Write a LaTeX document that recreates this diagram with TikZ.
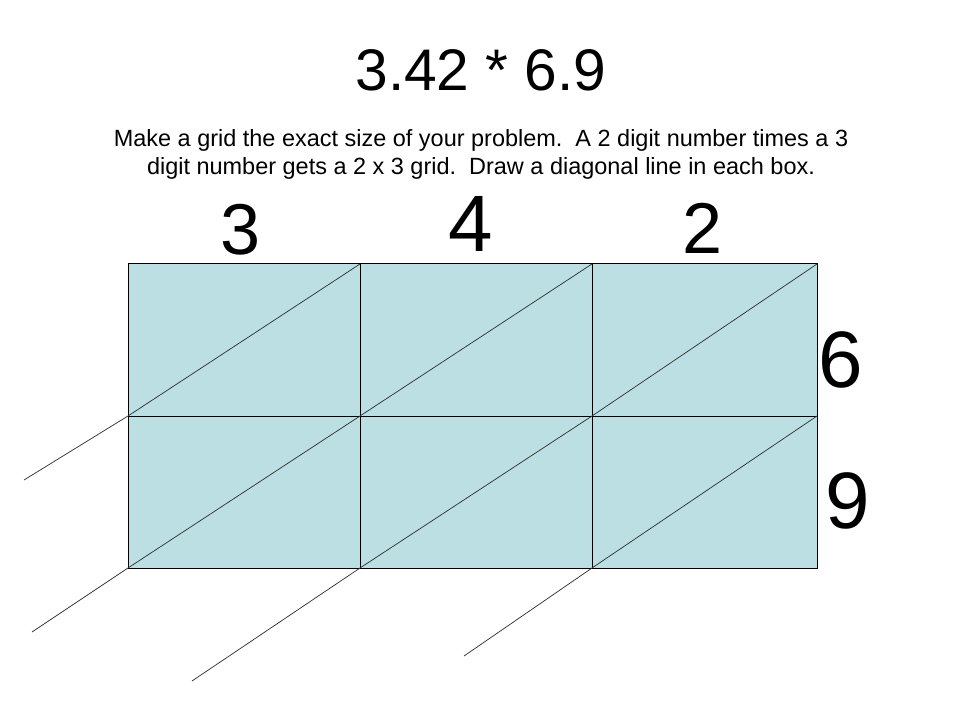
\documentclass[tikz,border=0pt]{standalone}
\usepackage{fontspec}
\setmainfont{Liberation Sans}
\usepackage{tikz}

\definecolor{cellblue}{RGB}{187,223,227}

\tikzset{
  cell/.style={fill=cellblue,draw=black,line width=0.75pt},
  diag/.style={draw=black!80,line width=0.55pt},
  digit/.style={anchor=base,inner sep=0pt,font=\fontsize{54}{54}\selectfont},
  bigdigit/.style={anchor=base,inner sep=0pt,font=\fontsize{60}{60}\selectfont}
}

\begin{document}
\begin{tikzpicture}[x=0.75pt,y=-0.75pt]
  \useasboundingbox (0,0) rectangle (960,720);

  % title and instructions
  \node[anchor=base,inner sep=0pt,font=\fontsize{44}{44}\selectfont] (title) at (481,91) {3.42 * 6.9};
  \node[anchor=base,inner sep=0pt,align=center,font=\fontsize{17.6}{21.5}\selectfont] (note) at (481,174.7)
    {Make a grid the exact size of your problem.\ \ A 2 digit number times a 3\\
     digit number gets a 2 x 3 grid.\ \ Draw a diagonal line in each box.};

  % grid lines
  \def\xa{128} \def\xb{360} \def\xc{592} \def\xd{817}
  \def\ya{264} \def\yb{416} \def\yc{568}

  \foreach \xl/\xr in {\xa/\xb,\xb/\xc,\xc/\xd}
  {
    \foreach \yt/\yl in {\ya/\yb,\yb/\yc}
    {
      \draw[cell] (\xl,\yt) rectangle (\xr,\yl);
    }
  }

  % diagonal in each box
  \foreach \xl/\xr in {\xa/\xb,\xb/\xc,\xc/\xd}
  {
    \foreach \yt/\yl in {\ya/\yb,\yb/\yc}
    {
      \draw[diag] (\xl,\yl) -- (\xr,\yt);
    }
  }

  % diagonals carried on past the grid
  \coordinate (tailA) at (24,480);
  \coordinate (tailB) at (32,632);
  \coordinate (tailC) at (192,681);
  \coordinate (tailD) at (464,656);
  \draw[diag] (tailA) -- (\xa,\yb);
  \draw[diag] (tailB) -- (\xa,\yc);
  \draw[diag] (tailC) -- (\xb,\yc);
  \draw[diag] (tailD) -- (\xc,\yc);

  % digits of the factors
  \node[digit] (dthree) at (240.7,255) {3};
  \node[bigdigit] (dfour) at (470.5,251.7) {4};
  \node[digit] (dtwo) at (703,254) {2};
  \node[bigdigit] (dsix) at (841,387.5) {6};
  \node[bigdigit] (dnine) at (848,528) {9};
\end{tikzpicture}
\end{document}
